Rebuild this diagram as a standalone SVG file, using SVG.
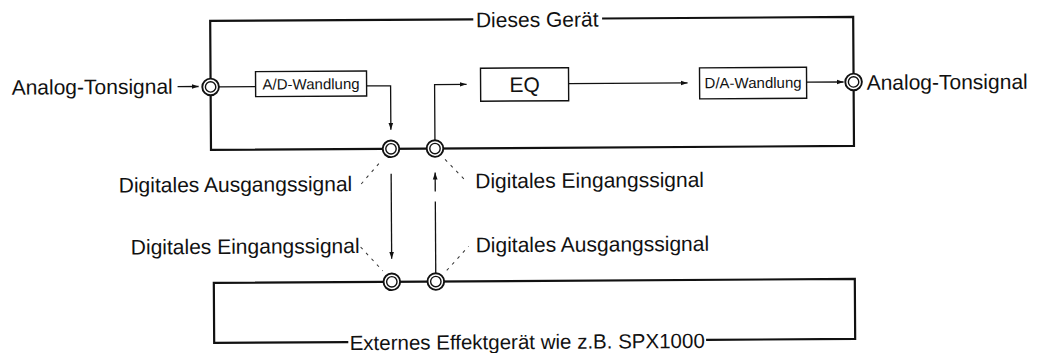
<svg xmlns="http://www.w3.org/2000/svg" width="1043" height="353" viewBox="0 0 1043 353">
<style>
  text{font-family:"Liberation Sans",Arial,sans-serif;fill:#111}
  .lbl{font-size:21px}
  .ext{font-size:20.5px}
  .small{font-size:15px}
  .frame{fill:none;stroke:#111;stroke-width:2.2;stroke-linecap:square}
  .box{fill:#fff;stroke:#111;stroke-width:1.4}
  .wire{fill:none;stroke:#111;stroke-width:1.3}
  .lead{fill:none;stroke:#333;stroke-width:1;stroke-dasharray:3 5}
  .jack-o{fill:#fff;stroke:#111;stroke-width:1.9}
  .jack-i{fill:#fff;stroke:#111;stroke-width:1.4}
</style>
<defs>
  <marker id="ah" viewBox="0 0 8 6" refX="8" refY="3" markerWidth="7" markerHeight="5.5" markerUnits="userSpaceOnUse" orient="auto">
    <path d="M0,0.3 L8,3 L0,5.7 z" fill="#111"/>
  </marker>
  <g id="jack">
    <circle class="jack-o" r="8.3"/>
    <circle class="jack-i" r="5.2"/>
  </g>
</defs>
<rect width="1043" height="353" fill="#fff"/>
<g transform="rotate(-0.356 520 150)">
  <g id="dieses-geraet">
    <path class="frame" d="M473,19 H211 V148 H854 V19 H604"/>
    <text class="lbl" x="538" y="27" text-anchor="middle">Dieses Gerät</text>
  </g>
  <g id="externes-geraet">
    <path class="frame" d="M346,341 H213 V281 H854 V341 H706"/>
    <text class="ext" x="526" y="349" text-anchor="middle">Externes Effektgerät wie z.B. SPX1000</text>
  </g>
  <g id="connectors">
    <path class="wire" d="M178,84.5 H199" marker-end="url(#ah)"/>
    <path class="wire" d="M219,85 H256"/>
    <path class="wire" d="M367,85 H391 V129" marker-end="url(#ah)"/>
    <path class="wire" d="M435,140 V84 H467" marker-end="url(#ah)"/>
    <path class="wire" d="M569,84 H688" marker-end="url(#ah)"/>
    <path class="wire" d="M807,84 H844" marker-end="url(#ah)"/>
    <path class="wire" d="M391,173 V258" marker-end="url(#ah)"/>
    <path class="wire" d="M435,191 V172" marker-end="url(#ah)"/>
    <path class="wire" d="M435,273 V201"/>
    <path class="lead" d="M361,183 L382,159"/>
    <path class="lead" d="M445,159 L467,182"/>
    <path class="lead" d="M360,246 L382,270"/>
    <path class="lead" d="M446,270 L468,246"/>
  </g>
  <g id="analog-in">
    <text class="lbl" x="12" y="91.5">Analog-Tonsignal</text>
    <use href="#jack" x="211" y="85"/>
  </g>
  <g id="ad-wandlung">
    <rect class="box" x="256" y="70" width="111" height="25"/>
    <text class="small" x="311.5" y="88" text-anchor="middle">A/D-Wandlung</text>
  </g>
  <g id="eq">
    <rect class="box" x="481" y="68" width="88" height="33"/>
    <text class="lbl" x="525" y="92" text-anchor="middle">EQ</text>
  </g>
  <g id="da-wandlung">
    <rect class="box" x="700" y="69" width="107" height="31"/>
    <text class="small" x="753.5" y="89.5" text-anchor="middle">D/A-Wandlung</text>
  </g>
  <g id="analog-out">
    <use href="#jack" x="854" y="84"/>
    <text class="lbl" x="867" y="92">Analog-Tonsignal</text>
  </g>
  <g id="digital-out-1">
    <use href="#jack" x="391" y="148"/>
    <text class="lbl" x="352" y="190" text-anchor="end">Digitales Ausgangssignal</text>
  </g>
  <g id="digital-in-1">
    <use href="#jack" x="435" y="148"/>
    <text class="lbl" x="475" y="188">Digitales Eingangssignal</text>
  </g>
  <g id="digital-in-2">
    <use href="#jack" x="391" y="281"/>
    <text class="lbl" x="359" y="252" text-anchor="end">Digitales Eingangssignal</text>
  </g>
  <g id="digital-out-2">
    <use href="#jack" x="435" y="281"/>
    <text class="lbl" x="475" y="252">Digitales Ausgangssignal</text>
  </g>
</g>
</svg>
